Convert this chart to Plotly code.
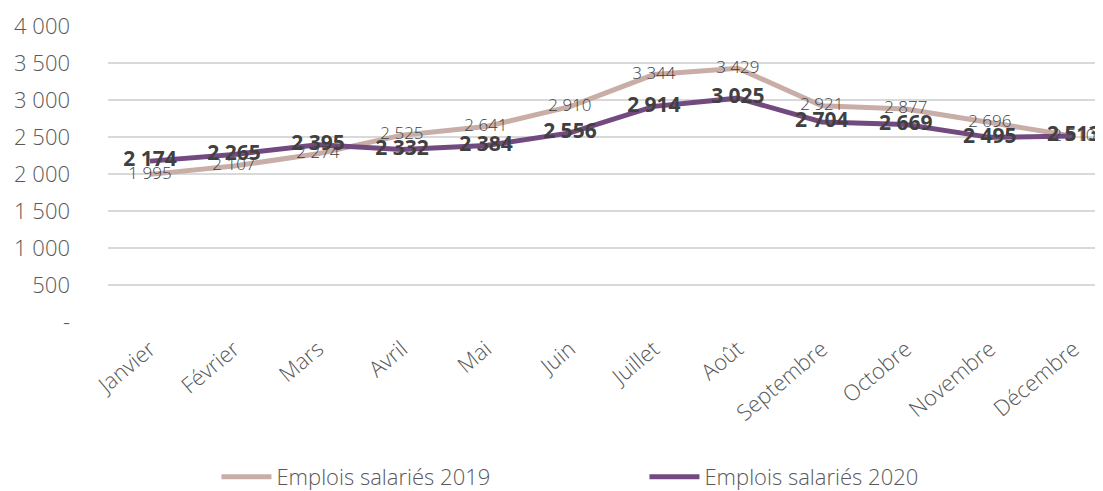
import plotly.graph_objects as go

mois = ["Janvier", "Février", "Mars", "Avril", "Mai", "Juin", "Juillet", "Août",
        "Septembre", "Octobre", "Novembre", "Décembre"]
emplois_2019 = [1995, 2107, 2274, 2525, 2641, 2910, 3344, 3429, 2921, 2877, 2696, 2510]
emplois_2020 = [2174, 2265, 2395, 2332, 2384, 2556, 2914, 3025, 2704, 2669, 2495, 2513]
y_ticks = [0, 500, 1000, 1500, 2000, 2500, 3000, 3500, 4000]
y_tick_labels = ["-", "500", "1 000", "1 500", "2 000", "2 500", "3 000", "3 500", "4 000"]


def fmt(v):
    return f"{v:,}".replace(",", " ")


FONT = "Open Sans"
C2019 = "#C9AEA7"
C2020 = "#734A80"

fig = go.Figure()
fig.add_trace(go.Scatter(x=mois, y=emplois_2019, mode="lines", name="Emplois salariés 2019",
                         line=dict(color=C2019, width=5)))
fig.add_trace(go.Scatter(x=mois, y=emplois_2020, mode="lines", name="Emplois salariés 2020",
                         line=dict(color=C2020, width=5)))
fig.add_trace(go.Scatter(x=mois, y=emplois_2019, mode="text", showlegend=False,
                         text=[fmt(v) for v in emplois_2019], textposition="middle center",
                         textfont=dict(family=FONT, size=17, color="#404040", weight=300),
                         cliponaxis=False, hoverinfo="skip"))
fig.add_trace(go.Scatter(x=mois, y=emplois_2020, mode="text", showlegend=False,
                         text=["<b>" + fmt(v) + "</b>" for v in emplois_2020],
                         textposition="middle center",
                         textfont=dict(family=FONT, size=21, color="#404040"),
                         cliponaxis=False, hoverinfo="skip"))

fig.update_layout(
    width=1103, height=491,
    margin=dict(l=100, r=12, t=18, b=177, autoexpand=False),
    paper_bgcolor="white", plot_bgcolor="white",
    font=dict(family=FONT, color="#595959"),
    showlegend=True,
    legend=dict(orientation="h", xref="container", x=0.189, xanchor="left",
                yref="container", y=0.045, yanchor="middle",
                font=dict(family=FONT, size=22, color="#595959", weight=300),
                entrywidth=363, itemwidth=50),
    xaxis=dict(range=[-0.5, 11.3], tickangle=-40, showgrid=False, zeroline=False,
               showline=False, ticks="", automargin=False, ticklabelstandoff=9,
               tickfont=dict(family=FONT, size=22, color="#595959", weight=300)),
    yaxis=dict(range=[0, 4000], tickvals=y_ticks, ticktext=y_tick_labels,
               showgrid=True, gridcolor="#D9D9D9", gridwidth=1.5, zeroline=False,
               ticks="", ticklabelstandoff=37, automargin=False,
               tickfont=dict(family=FONT, size=22, color="#595959", weight=300)),
)

fig.write_html("out.html")
